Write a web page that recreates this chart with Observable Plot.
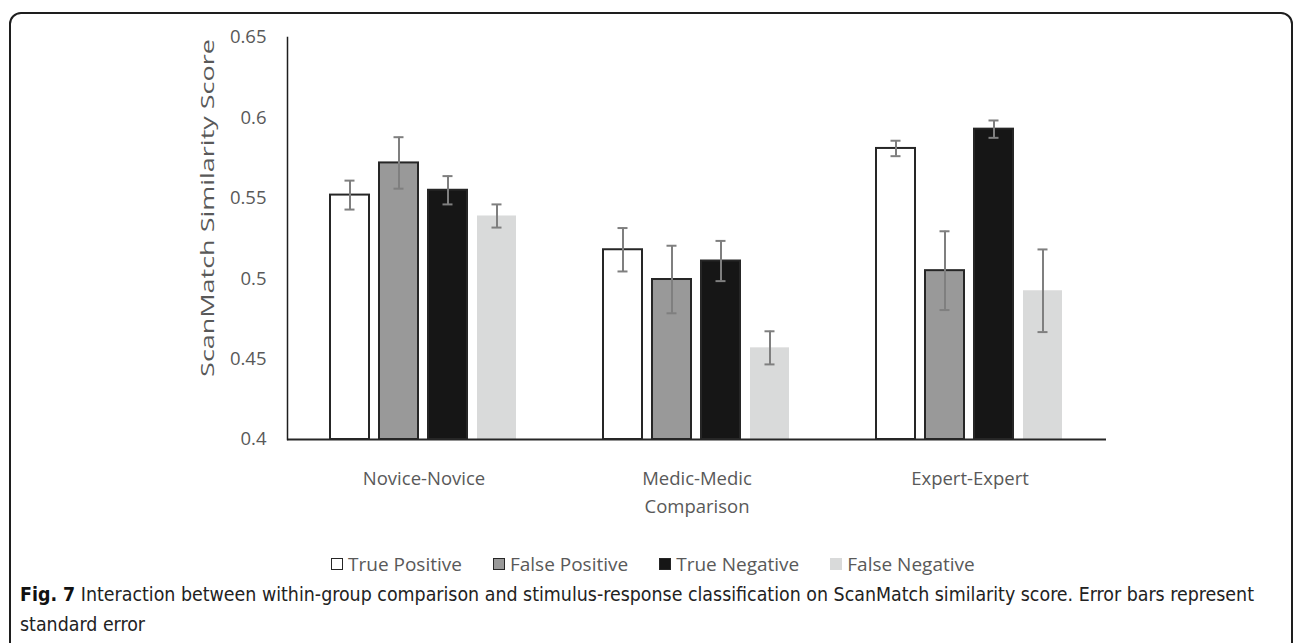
<!DOCTYPE html>
<html>
<head>
<meta charset="utf-8">
<script src="https://cdn.jsdelivr.net/npm/d3@7"></script>
<script src="https://cdn.jsdelivr.net/npm/@observablehq/plot@0.6"></script>
<style>
  html, body { margin: 0; padding: 0; background: #fff; }
  #wrap { position: relative; width: 1295px; height: 643px; overflow: hidden; font-family: "Open Sans", sans-serif; }
  #frame { position: absolute; left: 9px; top: 12px; width: 1284px; height: 700px; border: 2px solid #1e1e1e; border-radius: 12px 12px 0 0; box-sizing: border-box; }
  #chart { position: absolute; left: 0; top: 0; }
  #legend { position: absolute; left: 331px; top: 551px; display: flex; font-size: 19px; line-height: 26px; color: #595959; }
  #legend .item { display: flex; align-items: center; margin-right: 31px; }
  #legend .sw { width: 12px; height: 12px; box-sizing: border-box; margin-right: 5px; }
  #caption { position: absolute; left: 20px; top: 580px; width: 1265px; font-family: "Liberation Sans Narrow", "DejaVu Sans Condensed", "Roboto Condensed", sans-serif; font-stretch: condensed; font-size: 19.4px; line-height: 30px; color: #222; white-space: nowrap; }
  #caption b { color: #111; }
</style>
</head>
<body>
<div id="wrap">
  <div id="frame"></div>
  <div id="chart"></div>
  <div id="legend"></div>
  <div id="caption"><b>Fig. 7</b> Interaction between within-group comparison and stimulus-response classification on ScanMatch similarity score. Error bars represent<br>standard error</div>
</div>
<script>
// ---- data ----
const groups = ["Novice-Novice", "Medic-Medic", "Expert-Expert"];
const classes = ["True Positive", "False Positive", "True Negative", "False Negative"];
const meansNovice = [0.552, 0.572, 0.555, 0.539];
const meansMedic  = [0.518, 0.4995, 0.511, 0.457];
const meansExpert = [0.581, 0.505, 0.593, 0.4925];
const seNovice = [0.009, 0.016, 0.0088, 0.0072];
const seMedic  = [0.0135, 0.021, 0.0125, 0.0103];
const seExpert = [0.0048, 0.0245, 0.0054, 0.0257];
const yTicks = [0.4, 0.45, 0.5, 0.55, 0.6, 0.65];
const fills = ["#ffffff", "#999999", "#161616", "#d9dada"];
const strokes = ["#262626", "#262626", "#262626", "none"];

const allMeans = [meansNovice, meansMedic, meansExpert];
const allSE = [seNovice, seMedic, seExpert];
const rows = [];
groups.forEach((g, gi) => classes.forEach((c, ci) => {
  rows.push({group: g, cls: c, mean: allMeans[gi][ci], se: allSE[gi][ci]});
}));

const chart = Plot.plot({
  width: 1295,
  height: 530,
  marginLeft: 286,
  marginRight: 189,
  marginTop: 37,
  marginBottom: 91,
  style: {fontFamily: "Open Sans, sans-serif", background: "transparent"},
  fx: {domain: groups, padding: 0},
  x: {domain: classes, paddingInner: 0.2, paddingOuter: 0.86, axis: null},
  y: {domain: [0.4, 0.65]},
  color: {domain: classes, range: fills},
  marks: [
    Plot.barY(rows, {fx: "group", x: "cls", y1: d => 0.4, y2: "mean", fill: "cls",
      stroke: d => strokes[classes.indexOf(d.cls)], strokeWidth: 2}),
    Plot.ruleX(rows, {fx: "group", x: "cls", y1: d => d.mean - d.se, y2: d => d.mean + d.se, stroke: "#7f7f7f", strokeWidth: 2}),
    Plot.tickY(rows, {fx: "group", x: "cls", y: d => d.mean - d.se, stroke: "#7f7f7f", strokeWidth: 2, insetLeft: 14.5, insetRight: 14.5}),
    Plot.tickY(rows, {fx: "group", x: "cls", y: d => d.mean + d.se, stroke: "#7f7f7f", strokeWidth: 2, insetLeft: 14.5, insetRight: 14.5}),
    Plot.ruleY([0.4], {stroke: "#262626", strokeWidth: 2}),
    Plot.frame({anchor: "left", facetAnchor: "left", stroke: "#1e1e1e", strokeWidth: 1.5}),
    Plot.axisY({ticks: yTicks, tickFormat: d => String(+d.toFixed(2)), tickSize: 0, tickPadding: 21,
      fontSize: 18.5, fill: "#595959", label: null}),
    Plot.axisFx({anchor: "bottom", tickSize: 0, tickPadding: 32, fontSize: 18.5, fill: "#595959",
      label: "Comparison", labelAnchor: "center", labelOffset: 73, labelArrow: "none"})
  ]
});
document.getElementById("chart").appendChild(chart);

// y-axis title (real text), placed and proportioned as in the reference
const svg = d3.select(chart);
svg.append("text")
  .attr("transform", "translate(209,208) rotate(-90) scale(1.42,1)")
  .attr("text-anchor", "middle")
  .attr("dominant-baseline", "middle")
  .attr("fill", "#595959")
  .attr("font-family", "Open Sans, sans-serif")
  .attr("font-size", 19)
  .text("ScanMatch Similarity Score");

// legend
const leg = document.getElementById("legend");
classes.forEach((c, i) => {
  const it = document.createElement("div");
  it.className = "item";
  const sw = document.createElement("span");
  sw.className = "sw";
  sw.style.background = fills[i];
  if (strokes[i] !== "none") sw.style.border = "1.5px solid " + strokes[i];
  const t = document.createElement("span");
  t.textContent = c;
  it.appendChild(sw); it.appendChild(t);
  leg.appendChild(it);
});
</script>
</body>
</html>
